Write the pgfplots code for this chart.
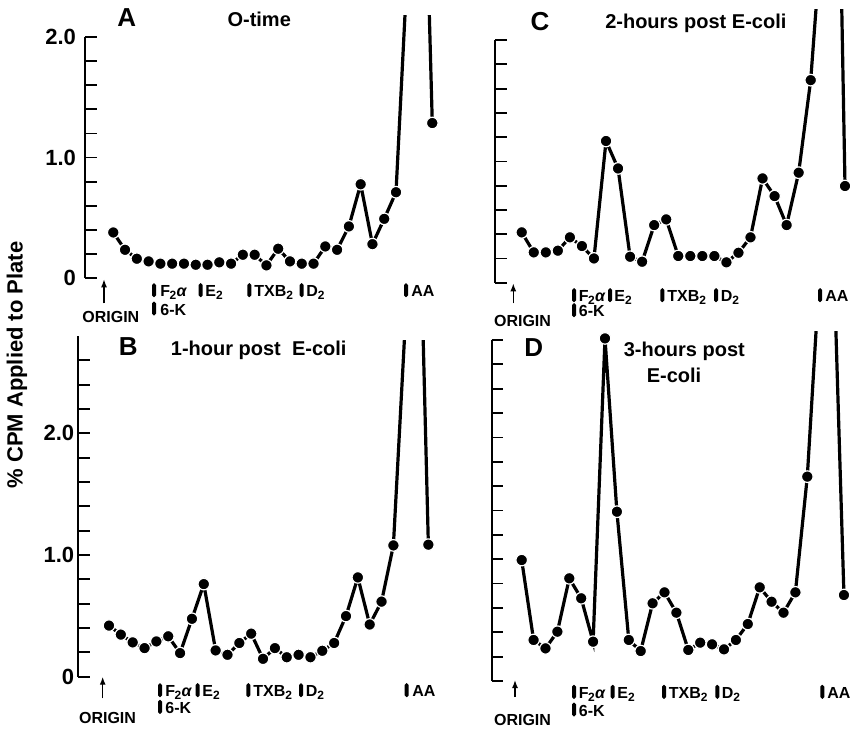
\documentclass[border=0pt]{standalone}
\usepackage{fontspec}
\setmainfont{Liberation Sans}
\usepackage{pgfplots}
\pgfplotsset{compat=1.18}
\usetikzlibrary{arrows.meta}

\newcommand{\labfont}{\bfseries\fontsize{8}{9}\selectfont}
% bar, baseline, text start, text (all in reference pixels)
\newcommand{\lab}[4]{%
  \fill[rounded corners=0.9pt] (#1-2,#2+0.5) rectangle (#1+2,#2-13.5);
  \node[anchor=base west,inner sep=0,font=\labfont] at (#3,#2) {#4};}
\newcommand{\fta}{F\kern-0.3pt\textsubscript{2}\kern-0.3pt\textit{α}}

\pgfplotsset{
  panel/.style={
    axis x line=none, axis y line=left,
    y axis line style={draw=none},
    ymin=0, anchor=south west,
    tick align=inside, major tick length=5.8pt,
    major tick style={black,line width=0.9pt},
    yticklabel style={font=\bfseries\fontsize{11}{11}\selectfont},
    clip mode=individual,
  },
  dat/.style={black,line width=1.6pt,mark=*,mark size=2.9pt,
    mark options={fill=black,draw=white,line width=0.6pt,solid}},
  lowticks/.style={ytick={0,0.2,0.4,0.6,0.8,1.0,1.2,1.4,1.6,1.8,2.0}},
  highticks/.style={ytick={0,0.2,0.4,0.6,0.8,1.0,1.2,1.4,1.6,1.8,2.0,2.2,2.4,2.6,2.8}},
}

\begin{document}
\begin{tikzpicture}

% A: O-time
\begin{axis}[panel,lowticks,at={(42.5pt,-139pt)},x=5.89pt,y=60.25pt,
  xmin=-2.40,xmax=28,ymax=2.18,
  yticklabels={0,{},{},{},{},1.0,{},{},{},{},2.0},
  yticklabel style={xshift=-1pt}]
\draw[line width=1.1pt] (axis cs:-2.40,0) -- (axis cs:-2.40,2.0);
\addplot[dat] coordinates {(0,0.378)(1,0.234)(2,0.160)(3,0.138)(4,0.119)(5,0.119)(6,0.119)(7,0.110)(8,0.110)(9,0.130)(10,0.119)(11,0.193)(12,0.193)(13,0.105)(14,0.243)(15,0.138)(16,0.119)(17,0.119)(18,0.262)(19,0.234)(20,0.428)(21,0.778)(22,0.281)(23,0.491)(24,0.712)(25,2.64)(26,5.15)(27.08,1.286)};
\end{axis}

% C: 2-hours post E-coli
\begin{axis}[panel,lowticks,at={(247.5pt,-141.35pt)},x=6.02pt,y=60.65pt,
  xmin=-2.22,xmax=27.5,ymax=2.25,
  yticklabels={{},{},{},{},{},{},{},{},{},{},{}}]
\draw[line width=1.1pt] (axis cs:-2.22,0) -- (axis cs:-2.22,2.0);
\addplot[dat] coordinates {(0,0.415)(1,0.250)(2,0.250)(3,0.264)(4,0.374)(5,0.302)(6,0.200)(7,1.168)(8,0.942)(9,0.214)(10,0.173)(11,0.475)(12,0.522)(13,0.220)(14,0.220)(15,0.220)(16,0.220)(17,0.168)(18,0.247)(19,0.374)(20,0.860)(21,0.714)(22,0.475)(23,0.907)(24,1.670)(25,3.0)(26,5.4)(26.85,0.797)};
\end{axis}

% B: 1-hour post E-coli
\begin{axis}[panel,highticks,at={(39.15pt,-338.35pt)},x=5.925pt,y=60.85pt,
  xmin=-2.59,xmax=28,ymax=2.76,
  yticklabels={0,{},{},{},{},1.0,{},{},{},{},2.0,{},{},{},{}},
  yticklabel style={xshift=1.5pt}]
\draw[line width=1.1pt] (axis cs:-2.59,0) -- (axis cs:-2.59,2.8);
\addplot[dat] coordinates {(0,0.420)(1,0.346)(2,0.282)(3,0.235)(4,0.290)(5,0.332)(6,0.194)(7,0.476)(8,0.761)(9,0.216)(10,0.180)(11,0.277)(12,0.354)(13,0.147)(14,0.235)(15,0.160)(16,0.180)(17,0.160)(18,0.213)(19,0.277)(20,0.498)(21,0.816)(22,0.429)(23,0.617)(24,1.079)(25,2.9)(26,4.76)(26.95,1.085)};
\end{axis}

% D: 3-hours post E-coli
\begin{axis}[panel,highticks,at={(245.85pt,-340.5pt)},x=5.95pt,y=60.9pt,
  xmin=-2.52,xmax=27.6,ymax=2.87,
  yticklabels={{},{},{},{},{},{},{},{},{},{},{},{},{},{},{}}]
\draw[line width=1.1pt] (axis cs:-2.52,0) -- (axis cs:-2.52,2.8);
\addplot[dat] coordinates {(0,0.993)(1,0.337)(2,0.268)(3,0.405)(4,0.843)(5,0.679)(6,0.323)(7,2.813)(8,1.390)(9,0.337)(10,0.246)(11,0.638)(12,0.728)(13,0.561)(14,0.255)(15,0.315)(16,0.301)(17,0.260)(18,0.337)(19,0.468)(20,0.769)(21,0.651)(22,0.561)(23,0.728)(24,1.678)(25,3.3)(26,4.17)(27.08,0.706)};
\end{axis}

\begin{scope}[x=0.5pt,y=-0.5pt,>={Latex[length=4pt,width=3pt]}]
% y label
\node[rotate=90,font=\bfseries\fontsize{11}{11}\selectfont] at (17,365) {\% CPM Applied to Plate};

% titles
\node[anchor=base,inner sep=0,font=\bfseries\fontsize{13}{13}\selectfont] at (126.7,26) {A};
\node[anchor=base,inner sep=0,font=\bfseries\fontsize{10}{10}\selectfont] at (259.2,26.7) {O-time};
\node[anchor=base,inner sep=0,font=\bfseries\fontsize{13}{13}\selectfont] at (540,30.7) {C};
\node[anchor=base,inner sep=0,font=\bfseries\fontsize{10}{10}\selectfont] at (695.8,28.5) {2-hours post E-coli};
\node[anchor=base,inner sep=0,font=\bfseries\fontsize{13}{13}\selectfont] at (128.3,355) {B};
\node[anchor=base,inner sep=0,font=\bfseries\fontsize{10}{10}\selectfont] at (258.7,355) {1-hour post\ \ E-coli};
\node[anchor=base,inner sep=0,font=\bfseries\fontsize{13}{13}\selectfont] at (533.7,356.7) {D};
\node[anchor=base,inner sep=0,font=\bfseries\fontsize{10}{10}\selectfont] at (684.3,356.7) {3-hours post};
\node[anchor=base,inner sep=0,font=\bfseries\fontsize{10}{10}\selectfont] at (674,382.3) {E-coli};

% A markers
\lab{154}{296.7}{160}{\fta}
\lab{200.7}{296.7}{205}{E\textsubscript{2}}
\lab{249.3}{296.7}{254}{TXB\textsubscript{2}}
\lab{301.7}{296.7}{306}{D\textsubscript{2}}
\lab{406}{296.7}{411}{AA}
\lab{154}{315}{160}{6-K}
\draw[->,line width=0.7pt] (104,303.3) -- (104,279.3);
\node[anchor=base,inner sep=0,font=\labfont] at (110.8,322.7) {ORIGIN};

% C markers
\lab{574}{301.7}{578.5}{\fta}
\lab{610}{301.7}{614}{E\textsubscript{2}}
\lab{662.3}{301.7}{667}{TXB\textsubscript{2}}
\lab{716}{301.7}{720.5}{D\textsubscript{2}}
\lab{820}{301.7}{825}{AA}
\lab{574}{316.7}{578.5}{6-K}
\draw[->,line width=0.7pt] (513.3,303.3) -- (513.3,283.3);
\node[anchor=base,inner sep=0,font=\labfont] at (522.5,326.7) {ORIGIN};

% B markers
\lab{160}{696.7}{165}{\fta}
\lab{197.7}{696.7}{202}{E\textsubscript{2}}
\lab{248.3}{696.7}{253}{TXB\textsubscript{2}}
\lab{301}{696.7}{305.5}{D\textsubscript{2}}
\lab{406.7}{696.7}{412}{AA}
\lab{160}{713.3}{165}{6-K}
\draw[->,line width=0.7pt] (102.7,698.3) -- (102.7,676.7);
\node[anchor=base,inner sep=0,font=\labfont] at (107.5,723.3) {ORIGIN};

% D markers
\lab{574}{698.3}{578.5}{\fta}
\lab{612.7}{698.3}{617}{E\textsubscript{2}}
\lab{664}{698.3}{668.5}{TXB\textsubscript{2}}
\lab{717.3}{698.3}{721.5}{D\textsubscript{2}}
\lab{822.3}{698.3}{827}{AA}
\lab{574}{716}{578.5}{6-K}
\draw[->,line width=0.7pt] (515,697) -- (515,680);
\node[anchor=base,inner sep=0,font=\labfont] at (522.5,725) {ORIGIN};
\end{scope}

\pgfresetboundingbox
\useasboundingbox (0,0) rectangle (425pt,-364.5pt);
\end{tikzpicture}
\end{document}
